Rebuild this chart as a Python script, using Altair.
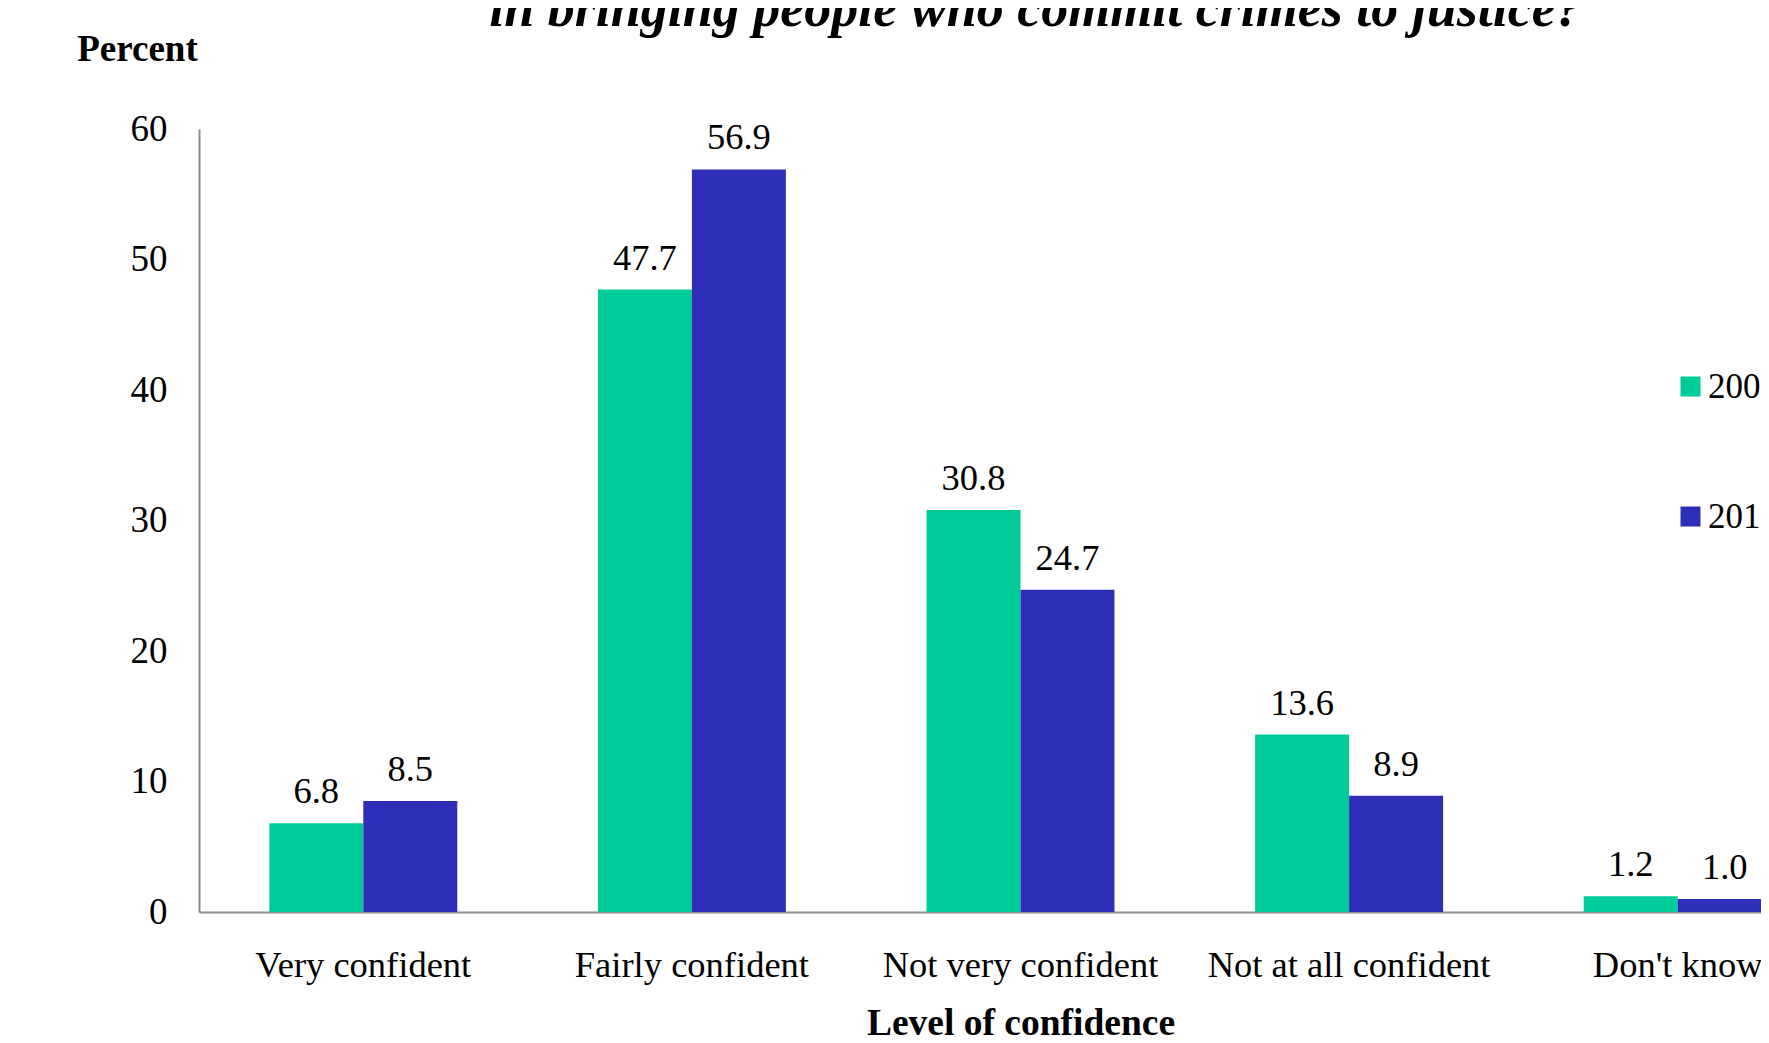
import altair as alt
import pandas as pd

categories = ["Very confident", "Fairly confident", "Not very confident", "Not at all confident", "Don't know"]
years = ["2007", "2012"]
values_2007 = [6.8, 47.7, 30.8, 13.6, 1.2]
values_2012 = [8.5, 56.9, 24.7, 8.9, 1.0]
colors = ["#00CC99", "#2E2EB8"]

rows = []
for c, a, b in zip(categories, values_2007, values_2012):
    rows.append({"Level": c, "Year": years[0], "Percent": a})
    rows.append({"Level": c, "Year": years[1], "Percent": b})
df = pd.DataFrame(rows)

FONT = "Liberation Serif"

x_enc = alt.X(
    "Level:N",
    sort=categories,
    scale=alt.Scale(range=[0, 1643], paddingInner=0.428, paddingOuter=0.214),
    axis=alt.Axis(
        title="Level of confidence",
        titleFont=FONT, titleFontSize=37.5, titleFontWeight="bold", titleColor="black",
        titleX=821.5, titleY=122.7, titleBaseline="alphabetic",
        labelFont=FONT, labelFontSize=36.5, labelColor="black", labelAngle=0,
        labelBaseline="alphabetic", labelPadding=64, ticks=False, labelLimit=500,
        domainColor="#8C8C8C", domainWidth=2, grid=False,
    ),
)
xo_enc = alt.XOffset("Year:N", sort=years, scale=alt.Scale(paddingInner=0, paddingOuter=0))
y_enc = alt.Y(
    "Percent:Q",
    scale=alt.Scale(domain=[0, 60], nice=False),
    axis=alt.Axis(
        values=[0, 10, 20, 30, 40, 50, 60],
        title="Percent", titleAngle=0,
        titleFont=FONT, titleFontSize=37, titleFontWeight="bold", titleColor="black",
        titleX=-122.3, titleY=-68.3, titleAlign="left", titleBaseline="alphabetic",
        labelFont=FONT, labelFontSize=37, labelColor="black",
        labelPadding=32, ticks=False,
        domainColor="#8C8C8C", domainWidth=2, grid=False,
    ),
)

bars = alt.Chart().mark_bar(stroke=None).encode(
    x=x_enc,
    xOffset=xo_enc,
    y=y_enc,
    color=alt.Color(
        "Year:N",
        sort=years,
        scale=alt.Scale(domain=years, range=colors),
        legend=alt.Legend(
            title=None, orient="none", legendX=1474, legendY=240,
            symbolType="square", symbolSize=400, symbolStrokeWidth=0,
            labelFont=FONT, labelFontSize=35, labelColor="black",
            labelOffset=0, rowPadding=94, padding=0,
        ),
    ),
)

labels = alt.Chart().mark_text(
    font=FONT, fontSize=36.5, color="black", baseline="alphabetic", dy=-20
).encode(
    x=alt.X("Level:N", sort=categories),
    xOffset=alt.XOffset("Year:N", sort=years),
    y=alt.Y("Percent:Q"),
    text=alt.Text("Percent:Q", format=".1f"),
)

chart = alt.layer(bars, labels, data=df).properties(
    width=1562,
    height=783,
    autosize=alt.AutoSizeParams(type="none"),
    padding={"left": 191, "top": 121, "right": 0, "bottom": 123},
    title=alt.TitleParams(
        text=["How confident are you that the Criminal Justice System is effective",
              "in bringing people who commit crimes to justice?"],
        font=FONT, fontSize=54, fontStyle="italic", fontWeight="bold", color="black",
        anchor="middle", frame="group", offset=1, dx=56, dy=7, lineHeight=62,
    ),
).configure_view(stroke=None)

chart.save("out.html", embed_options={"renderer": "svg", "actions": False})
